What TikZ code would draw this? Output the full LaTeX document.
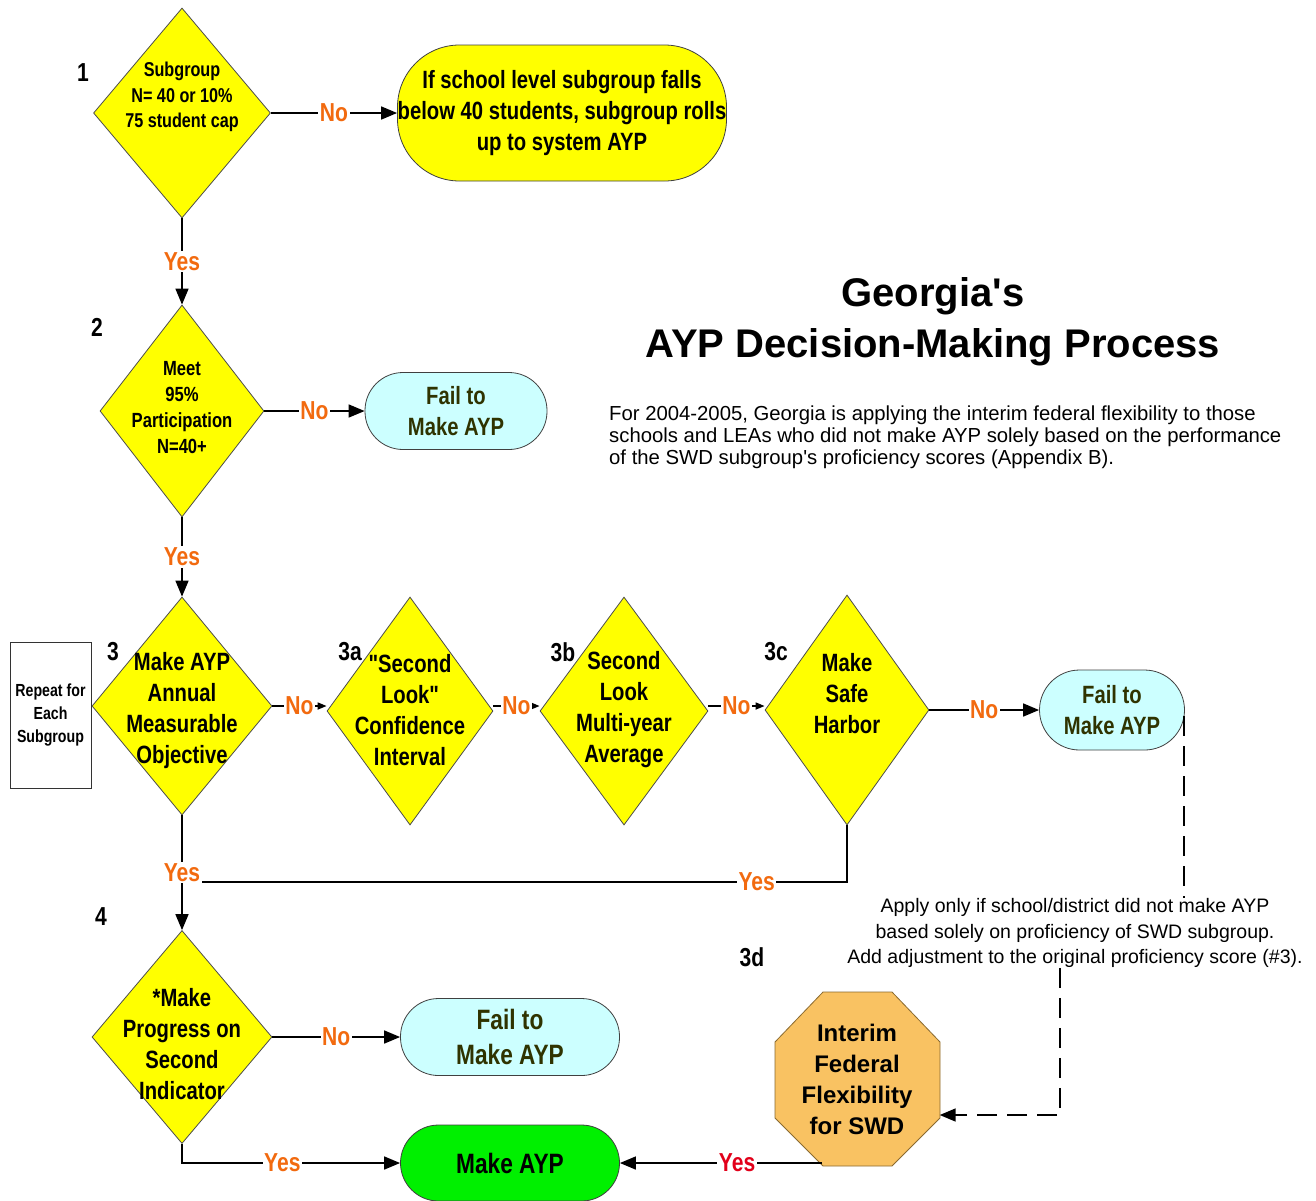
\documentclass[tikz,border=0pt]{standalone}
\usepackage{fontspec}
\setmainfont{Liberation Sans}
\newfontfamily\nar[FakeStretch=0.81]{Liberation Sans}
\usetikzlibrary{shapes.geometric,arrows.meta}
\definecolor{dyellow}{HTML}{FFFF00}
\definecolor{failc}{HTML}{CCFFFF}
\definecolor{greenc}{HTML}{00F000}
\definecolor{octc}{HTML}{F9C262}
\definecolor{octline}{HTML}{8A6A30}
\definecolor{lblorange}{HTML}{F26A0F}
\definecolor{lblred}{HTML}{E2001A}
\definecolor{failtext}{HTML}{2F3300}
\begin{document}
\begin{tikzpicture}[x=1pt,y=-1pt,
  dia/.style={diamond,draw=black!70,line width=0.8pt,fill=dyellow,inner sep=0pt},
  dtext/.style={font=\nar\bfseries\fontsize{25}{31}\selectfont,align=center,text=black,inner sep=0pt},
  dtextsmall/.style={font=\nar\bfseries\fontsize{20.5}{26}\selectfont,align=center,text=black,inner sep=0pt},
  term/.style={rectangle,draw=black!75,line width=0.8pt,align=center,inner sep=0pt,
    font=\nar\bfseries\fontsize{25}{31}\selectfont},
  fail/.style={term,fill=failc,text=failtext,rounded corners=38pt,minimum width=182pt,minimum height=77pt},
  bigterm/.style={font=\nar\bfseries\fontsize{28}{35}\selectfont},
  lbl/.style={font=\nar\bfseries\fontsize{26}{26}\selectfont,text=lblorange,fill=white,inner sep=1.5pt},
  conn/.style={line width=1.6pt,draw=black},
  bigarrow/.style={conn,-{Triangle[length=16pt,width=13pt]}},
  smallarrow/.style={conn,-{Triangle[length=9pt,width=7pt]}},
  dashline/.style={line width=1.6pt,dash pattern=on 20pt off 10pt},
  numlbl/.style={font=\nar\bfseries\fontsize{26}{26}\selectfont,inner sep=0pt}
]
\useasboundingbox (0,0) rectangle (1316,1200);
\fill[white] (0,0) rectangle (1316,1200);

% title and paragraph
\node[font=\bfseries\fontsize{40}{51}\selectfont,align=center,inner sep=0pt] (title) at (933,322)
  {Georgia\textquotesingle s\\AYP Decision-Making Process};
\node[font=\fontsize{20.3}{22}\selectfont,align=left,inner sep=0pt,anchor=west] (para) at (609,437)
  {For 2004-2005, Georgia is applying the interim federal flexibility to those\\
   schools and LEAs who did not make AYP solely based on the performance\\
   of the SWD subgroup\textquotesingle s proficiency scores (Appendix B).};

% step 1
\node[dia,minimum width=177pt,minimum height=210pt,
  label={[dtext,font=\nar\bfseries\fontsize{20}{25.5}\selectfont,yshift=16pt]center:{Subgroup\\N= 40 or 10\%\\75 student cap}}] (d1) at (182,113) {};
\node[numlbl] (n1) at (83,73) {1};
\node[term,fill=dyellow,rounded corners=62pt,minimum width=329pt,minimum height=136pt] (roll) at (562,113)
  {If school level subgroup falls\\below 40 students, subgroup rolls\\up to system AYP};

% step 2
\node[dia,minimum width=164pt,minimum height=212pt,
  label={[dtextsmall,yshift=3pt]center:{Meet\\95\%\\Participation\\N=40+}}] (d2) at (182,411) {};
\node[numlbl] (n2) at (97,327) {2};
\node[fail] (f2) at (456,411) {Fail to\\Make AYP};

% step 3 row
\node[draw=black!80,line width=0.8pt,minimum width=81pt,minimum height=146pt,inner sep=0pt,align=center,
  font=\nar\bfseries\fontsize{17.5}{23}\selectfont] (rep) at (50.5,715) {Repeat for\\Each\\Subgroup};
\node[dia,minimum width=180pt,minimum height=218pt,
  label={[dtext,yshift=-5pt]center:{Make AYP\\Annual\\Measurable\\Objective}}] (d3) at (182,706) {};
\node[numlbl] (n3) at (113,652) {3};
\node[dia,minimum width=166pt,minimum height=228pt,
  label={[dtext,yshift=1pt]center:{"Second\\Look"\\Confidence\\Interval}}] (d3a) at (410,711) {};
\node[numlbl] (n3a) at (350,652) {3a};
\node[dia,minimum width=168pt,minimum height=228pt,
  label={[dtext,yshift=1pt]center:{Second\\Look\\Multi-year\\Average}}] (d3b) at (624,711) {};
\node[numlbl] (n3b) at (563,652) {3b};
\node[dia,minimum width=164pt,minimum height=230pt,
  label={[dtext,yshift=16pt]center:{Make\\Safe\\Harbor}}] (d3c) at (847,710) {};
\node[numlbl] (n3c) at (776,652) {3c};
\node[fail,minimum width=145pt,minimum height=80pt,rounded corners=40pt] (f3) at (1112,710) {Fail to\\Make AYP};

% step 4
\node[dia,minimum width=180pt,minimum height=213pt,
  label={[dtext,yshift=-7pt]center:{*Make\\Progress on\\Second\\Indicator}}] (d4) at (182,1037) {};
\node[numlbl] (n4) at (101,917) {4};
\node[fail,bigterm,minimum width=219pt] (f4) at (510,1037) {Fail to\\Make AYP};
\node[term,bigterm,fill=greenc,rounded corners=38pt,minimum width=219pt,minimum height=76pt,text=black] (make) at (510,1163) {Make AYP};

% 3d octagon
\filldraw[fill=octc,draw=octline,line width=0.8pt]
  (823,992) -- (892,992) -- (940,1042) -- (940,1118) -- (892,1166) -- (823,1166) -- (775,1118) -- (775,1042) -- cycle;
\node[inner sep=0pt,minimum width=165pt,minimum height=174pt,align=center,
  font=\bfseries\fontsize{24}{31}\selectfont] (oct) at (857,1079) {Interim\\Federal\\Flexibility\\for SWD};
\node[numlbl] (n3d) at (752,957) {3d};
\coordinate (octyes) at (822,1163);

% note
\node[font=\fontsize{19.5}{25.5}\selectfont,align=center,inner sep=0pt] (note) at (1075,933)
  {Apply only if school/district did not make AYP\\
   based solely on proficiency of SWD subgroup.\\
   Add adjustment to the original proficiency score (\#3).};

% connectors
\draw[bigarrow] (d1.east) -- node[lbl] {No} (roll.west);
\draw[bigarrow] (d1.south) -- node[lbl] {Yes} (d2.north);
\draw[bigarrow] (d2.east) -- node[lbl] {No} (f2.west);
\draw[bigarrow] (d2.south) -- node[lbl] {Yes} (d3.north);
\draw[smallarrow] (d3.east) -- node[lbl] {No} (d3a.west |- d3.east);
\draw[smallarrow] (d3a.east |- d3.east) -- node[lbl] {No} (d3b.west |- d3.east);
\draw[smallarrow] (d3b.east |- d3.east) -- node[lbl] {No} (d3c.west |- d3.east);
\draw[bigarrow] (d3c.east) -- node[lbl] {No} (f3.west);
\draw[bigarrow] (d3.south) -- node[lbl] (yes3) {Yes} (d4.north);
\draw[conn] (d3c.south) |- node[lbl,pos=0.57] {Yes} ([yshift=-9pt]yes3.east);
\draw[bigarrow] (d4.east) -- node[lbl] {No} (f4.west);
\draw[bigarrow] (d4.south) |- node[lbl,pos=0.73] {Yes} (make.west);
\draw[bigarrow] (octyes) -- node[lbl,text=lblred,pos=0.42] {Yes} (make.east);

% dashed connector
\coordinate (dj) at (1060,1115);
\draw[dashline] ([xshift=-1pt,yshift=-6pt]f3.east) -- ([xshift=-1pt]f3.east |- note.north);
\draw[dashline,-{Triangle[length=16pt,width=13pt]}] (dj |- note.south) -- (dj) -- ([yshift=-36pt]oct.east);
\end{tikzpicture}
\end{document}
